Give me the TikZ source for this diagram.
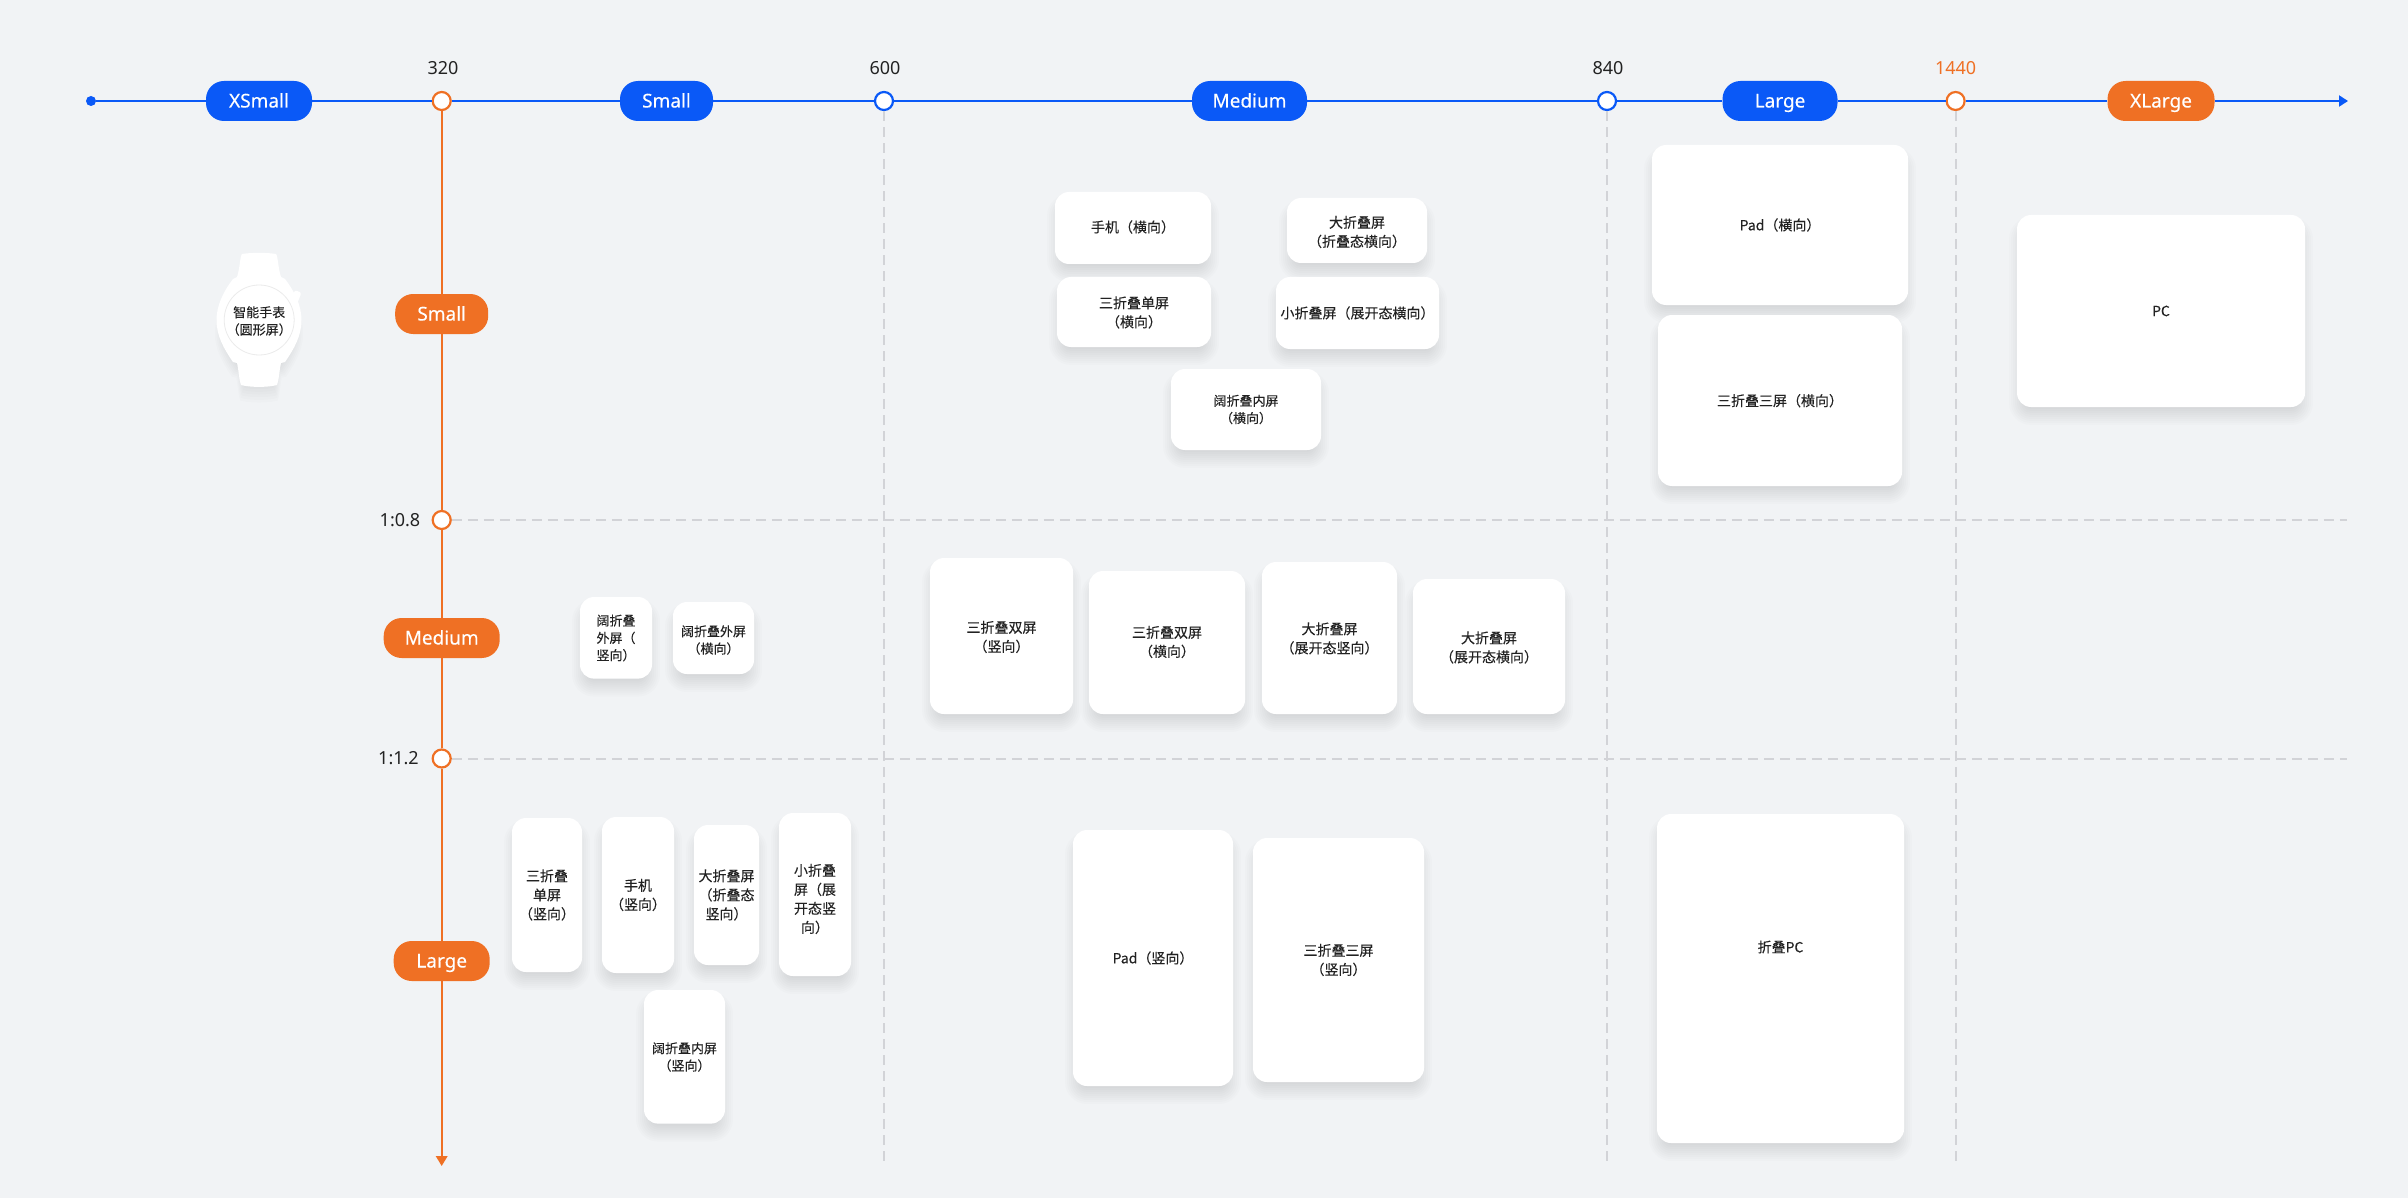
\documentclass[tikz,border=0pt]{standalone}
\usepackage{fontspec}
\setmainfont{Noto Sans CJK SC}[FakeBold=0.12]
\newfontfamily\latf{Noto Sans}
\newfontfamily\latm{Noto Sans}[FakeBold=0.2]
\usetikzlibrary{arrows.meta}
\definecolor{bgc}{HTML}{F1F3F5}
\definecolor{bluec}{HTML}{0A59F7}
\definecolor{orangec}{HTML}{EF7024}
\definecolor{dashc}{HTML}{D2D3D7}
\definecolor{inkc}{HTML}{222222}
\tikzset{
  pillbase/.style={rounded corners=18pt,inner sep=0pt,minimum height=40pt,text=white,text height=17pt,text depth=4pt,font=\latm\fontsize{19}{23}\selectfont},
  bluepill/.style={pillbase,fill=bluec},
  orangepill/.style={pillbase,fill=orangec},
  ringblue/.style={circle,inner sep=0pt,minimum size=18pt,fill=white,draw=bluec,line width=2.2pt},
  ringorange/.style={circle,inner sep=0pt,minimum size=18pt,fill=white,draw=orangec,line width=2.2pt},
  ticklabel/.style={inner sep=0pt,text=inkc,font=\latf\fontsize{18}{22}\selectfont},
  axisblue/.style={draw=bluec,line width=2pt},
  axisorange/.style={draw=orangec,line width=2pt},
  griddash/.style={draw=dashc,line width=2pt,dash pattern=on 10pt off 6pt},
  cardbox/.style={rounded corners=14pt,fill=white,inner sep=0pt,outer sep=0pt},
  cardtext/.style={inner sep=0pt,align=center,text=inkc},
  fnormal/.style={font=\fontsize{14}{19}\selectfont},
  fsmall/.style={font=\fontsize{13}{17.3}\selectfont},
}
\newcommand{\card}[8]{%
  \foreach \e in {-8,-6,...,8}{%
    \pgfmathsetmacro{\rr}{max(14+\e,6)}
    \fill[black,opacity=.011,rounded corners=\rr pt]
      ({#2-\e},{#3+10-\e}) rectangle ({#4+\e},{#5+10+\e});
  }
  \pgfmathsetmacro{\cx}{(#2+#4)/2}
  \pgfmathsetmacro{\cy}{(#3+#5)/2}
  \pgfmathsetmacro{\cw}{#4-#2}
  \pgfmathsetmacro{\ch}{#5-#3}
  \node[cardbox,minimum width=\cw pt,minimum height=\ch pt] (#1) at (\cx,\cy) {};
  \node[cardtext,#7] (#1t) at (\cx,#6) {#8};
}
\newcommand{\watchpath}{
  (242,254) .. controls (250,252.5) and (268,252.5) .. (276,254)
  .. controls (278,256) and (278,268) .. (281,277)
  -- (285,279) .. controls (295,292) and (301.5,306) .. (301.5,320)
  .. controls (301.5,336) and (294,349) .. (285,362)
  -- (281,363) .. controls (279,372) and (279,380) .. (277,385)
  .. controls (268,387.5) and (250,387.5) .. (241,385)
  .. controls (239,380) and (239,372) .. (237,363)
  -- (233,362) .. controls (224,349) and (216.5,336) .. (216.5,320)
  .. controls (216.5,306) and (223,292) .. (233,279)
  -- (237,277) .. controls (240,268) and (240,256) .. (242,254) -- cycle
}
\begin{document}
\begin{tikzpicture}[x=1pt,y=-1pt]
\fill[bgc] (0,0) rectangle (2408,1198);
\useasboundingbox (0,0) rectangle (2408,1198);

% horizontal axis nodes
\node[circle,fill=bluec,inner sep=0pt,minimum size=10pt] (hstart) at (91,101) {};
\coordinate (hend) at (2348,101);
\node[bluepill,minimum width=106pt] (xsmall) at (259,101) {XSmall};
\node[bluepill,minimum width=93pt] (hsmall) at (666.5,101) {Small};
\node[bluepill,minimum width=115pt] (hmedium) at (1249.5,101) {Medium};
\node[bluepill,minimum width=115pt] (hlarge) at (1780,101) {Large};
\node[orangepill,minimum width=107pt] (xlarge) at (2161,101) {XLarge};
\node[ringorange] (n320) at (441.7,101) {};
\node[ringblue] (n600) at (884,101) {};
\node[ringblue] (n840) at (1607,101) {};
\node[ringorange] (n1440) at (1955.6,101) {};
\node[ticklabel] (l320) at (443,68) {320};
\node[ticklabel] (l600) at (885,68) {600};
\node[ticklabel] (l840) at (1608,68) {840};
\node[ticklabel,text=orangec] (l1440) at (1955.6,68) {1440};

% vertical axis nodes
\coordinate (vend) at (441.7,1166);
\node[orangepill,minimum width=93pt] (vsmall) at (441.7,314) {Small};
\node[orangepill,minimum width=116pt] (vmedium) at (441.7,638) {Medium};
\node[orangepill,minimum width=96pt] (vlarge) at (441.7,961) {Large};
\node[ringorange] (r08) at (441.7,520) {};
\node[ringorange] (r12) at (441.7,758.5) {};
\node[ticklabel] (l08) at (400,520) {1:0.8};
\node[ticklabel] (l12) at (398.5,758) {1:1.2};

% grid end points
\coordinate (d600) at (884,1163);
\coordinate (d840) at (1607,1163);
\coordinate (d1440) at (1955.6,1163);
\coordinate (d08) at (2347,520);
\coordinate (d12) at (2347,758.5);

% grid
\draw[griddash] (n600) -- (d600);
\draw[griddash] (n840) -- (d840);
\draw[griddash] (n1440) -- (d1440);
\draw[griddash] (r08) -- (d08);
\draw[griddash] (r12) -- (d12);

% axes
\draw[axisblue,-{Triangle[length=9pt,width=11pt]}] (hstart) -- (xsmall) -- (n320) -- (hsmall) -- (n600) -- (hmedium) -- (n840) -- (hlarge) -- (n1440) -- (xlarge) -- (hend);
\draw[axisorange,-{Triangle[length=10pt,width=11.5pt]}] (n320) -- (vsmall) -- (r08) -- (vmedium) -- (r12) -- (vlarge) -- (vend);

% watch
\foreach \s in {0.72,0.76,...,1.04}{%
  \fill[black,opacity=.012,shift={(259,333)},scale=\s,shift={(-259,-320)}] \watchpath;
}
\fill[white] \watchpath;
\fill[white,rotate around={-22:(296,297)},rounded corners=2pt] (292.5,291) rectangle (299.5,304);
\node[circle,fill=white,draw=black!8,line width=.8pt,inner sep=0pt,minimum size=70pt] (watchface) at (259.2,320) {};
\node[cardtext,fsmall] (watchlabel) at (259.2,321) {智能手表\\（圆形屏）};

% cards: Small row
\card{c01}{1055}{192}{1211}{264}{227}{fnormal}{手机（横向）}
\card{c02}{1287}{198}{1427}{263}{232}{fnormal}{大折叠屏\\（折叠态横向）}
\card{c03}{1057}{277}{1211}{347}{312.5}{fnormal}{三折叠单屏\\（横向）}
\card{c04}{1276}{277}{1439}{349}{313}{fnormal}{小折叠屏（展开态横向）}
\card{c05}{1171}{369}{1321}{450}{409.5}{fsmall}{阔折叠内屏\\（横向）}
\card{c06}{1652}{145}{1908}{305}{225}{fnormal}{Pad（横向）}
\card{c07}{1658}{315}{1902}{486}{400.7}{fnormal}{三折叠三屏（横向）}
\card{c08}{2017}{215}{2305}{407}{311}{fnormal}{PC}

% cards: Medium row
\card{c09}{580}{597}{652}{678.6}{638}{fsmall}{阔折叠\\外屏（\\竖向）}
\card{c10}{673}{602}{754}{674}{640}{fsmall}{阔折叠外屏\\（横向）}
\card{c11}{930}{558}{1073}{714}{637}{fnormal}{三折叠双屏\\（竖向）}
\card{c12}{1089}{571}{1245}{714}{642}{fnormal}{三折叠双屏\\（横向）}
\card{c13}{1262}{562}{1397}{714}{638.5}{fnormal}{大折叠屏\\（展开态竖向）}
\card{c14}{1413}{579}{1565}{714}{647.5}{fnormal}{大折叠屏\\（展开态横向）}

% cards: Large row
\card{c15}{512}{818}{582}{972}{895}{fnormal}{三折叠\\单屏\\（竖向）}
\card{c16}{602}{817}{674}{973}{895}{fnormal}{手机\\（竖向）}
\card{c17}{694}{825}{759}{965}{895}{fnormal}{大折叠屏\\（折叠态\\竖向）}
\card{c18}{779}{813}{851}{976}{899}{fnormal}{小折叠\\屏（展\\开态竖\\向）}
\card{c19}{644}{990}{725}{1123.6}{1057}{fsmall}{阔折叠内屏\\（竖向）}
\card{c20}{1073}{830}{1233}{1086}{958}{fnormal}{Pad（竖向）}
\card{c21}{1253}{838}{1424}{1082}{960}{fnormal}{三折叠三屏\\（竖向）}
\card{c22}{1657}{814}{1904}{1143}{947}{fnormal}{折叠PC}
\end{tikzpicture}
\end{document}
